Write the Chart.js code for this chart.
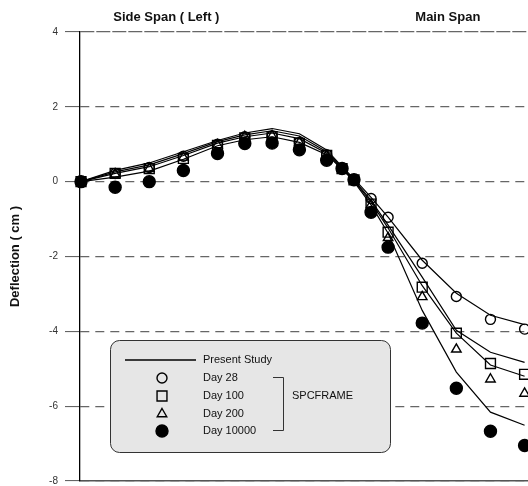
<!DOCTYPE html>
<html>
<head>
<meta charset="utf-8">
<title>Deflection</title>
<script src="https://cdn.jsdelivr.net/npm/chart.js"></script>
<style>
    html, body { margin: 0; padding: 0; background: #fff; }
    #chart { display: block; }
</style>
</head>
<body>
<canvas id="chart" width="528" height="486"></canvas>
<script>
// node positions along the deck (arbitrary units)
const nodeX = [0, 1, 2, 3, 4, 4.8, 5.6, 6.4, 7.2, 7.65, 8, 8.5, 9, 10, 11, 12, 13];

// Present Study (solid lines), one per age
const study28 = [0, 0.30, 0.50, 0.80, 1.10, 1.30, 1.42, 1.28, 0.85, 0.40, 0.08, -0.42, -0.95, -2.10, -2.98, -3.57, -3.82];
const study100 = [0, 0.26, 0.45, 0.75, 1.07, 1.25, 1.36, 1.22, 0.80, 0.38, 0.05, -0.50, -1.16, -2.55, -3.97, -4.56, -4.83];
const study200 = [0, 0.22, 0.40, 0.70, 1.03, 1.20, 1.30, 1.15, 0.76, 0.36, 0.03, -0.55, -1.24, -2.78, -4.05, -4.90, -5.20];
const study10000 = [0, 0.12, 0.28, 0.60, 0.96, 1.12, 1.20, 1.05, 0.72, 0.34, 0.00, -0.62, -1.38, -3.44, -5.09, -6.16, -6.51];

// SPCFRAME (markers)
const day28 = [0, 0.22, 0.38, 0.68, 1.00, 1.20, 1.22, 1.05, 0.72, 0.35, 0.05, -0.45, -0.95, -2.18, -3.07, -3.68, -3.94];
const day100 = [0, 0.22, 0.35, 0.62, 0.97, 1.17, 1.20, 1.02, 0.70, 0.35, 0.05, -0.60, -1.35, -2.82, -4.05, -4.86, -5.15];
const day200 = [0, 0.20, 0.35, 0.65, 0.98, 1.20, 1.22, 1.05, 0.70, 0.35, 0.05, -0.62, -1.50, -3.08, -4.48, -5.28, -5.66];
const day10000 = [0, -0.15, 0.00, 0.30, 0.75, 1.02, 1.03, 0.85, 0.57, 0.35, 0.05, -0.82, -1.75, -3.78, -5.52, -6.67, -7.05];

const yTicks = [4, 2, 0, -2, -4, -6, -8];
const spanTitles = ['Side Span ( Left )', 'Main Span'];
const legendLabels = ['Present Study', 'Day 28', 'Day 100', 'Day 200', 'Day 10000'];
const groupLabel = 'SPCFRAME';
const yTitle = 'Deflection ( cm )';

const FONT = '"Liberation Sans", Arial, Helvetica, sans-serif';

const toPoints = vals => vals.map((v, i) => ({ x: nodeX[i], y: v }));

const studyLine = vals => ({
    data: toPoints(vals),
    borderColor: '#000',
    borderWidth: 1.2,
    pointRadius: 0,
    tension: 0,
    fill: false,
    clip: false
});

const markers = (vals, style, radius, filled) => ({
    data: toPoints(vals),
    showLine: false,
    pointStyle: style,
    pointRadius: radius,
    pointBorderWidth: 1.4,
    pointBorderColor: '#000',
    pointBackgroundColor: filled ? '#000' : 'rgba(0,0,0,0)',
    clip: false
});

const markerStyles = [
    { style: 'circle', radius: 5, filled: false },
    { style: 'rect', radius: 7, filled: false },
    { style: 'triangle', radius: 5.5, filled: false },
    { style: 'circle', radius: 6, filled: true }
];

// span titles + boxed legend, drawn after the chart
const notesPlugin = {
    id: 'notes',
    afterDraw: function(chart) {
        const ctx = chart.ctx;
        const x = chart.scales.x;
        ctx.save();

        ctx.fillStyle = '#111';
        ctx.font = 'bold 13px ' + FONT;
        ctx.textAlign = 'center';
        ctx.textBaseline = 'middle';
        ctx.fillText(spanTitles[0], x.getPixelForValue(2.5), 17);
        ctx.fillText(spanTitles[1], x.getPixelForValue(10.75), 17);

        // legend box
        const bx = 110.5, by = 340.5, bw = 280, bh = 112, r = 9;
        ctx.beginPath();
        ctx.moveTo(bx + r, by);
        ctx.lineTo(bx + bw - r, by);
        ctx.arcTo(bx + bw, by, bx + bw, by + r, r);
        ctx.lineTo(bx + bw, by + bh - r);
        ctx.arcTo(bx + bw, by + bh, bx + bw - r, by + bh, r);
        ctx.lineTo(bx + r, by + bh);
        ctx.arcTo(bx, by + bh, bx, by + bh - r, r);
        ctx.lineTo(bx, by + r);
        ctx.arcTo(bx, by, bx + r, by, r);
        ctx.closePath();
        ctx.fillStyle = '#e6e6e6';
        ctx.fill();
        ctx.strokeStyle = '#333';
        ctx.lineWidth = 1;
        ctx.stroke();

        ctx.font = '11px ' + FONT;
        ctx.textAlign = 'left';
        ctx.fillStyle = '#111';

        // line sample
        ctx.beginPath();
        ctx.moveTo(125, 360);
        ctx.lineTo(196, 360);
        ctx.strokeStyle = '#000';
        ctx.lineWidth = 1.4;
        ctx.stroke();
        ctx.fillText(legendLabels[0], 203, 360);

        const rows = [378, 396, 414, 431];
        markerStyles.forEach((m, i) => {
            ctx.fillStyle = m.filled ? '#000' : 'rgba(0,0,0,0)';
            ctx.strokeStyle = '#000';
            ctx.lineWidth = 1.4;
            Chart.helpers.drawPoint(ctx, { pointStyle: m.style, radius: m.radius, rotation: 0, borderWidth: 1.4 }, 162, rows[i]);
            ctx.fillStyle = '#111';
            ctx.fillText(legendLabels[i + 1], 203, rows[i]);
        });

        // bracket for SPCFRAME
        ctx.beginPath();
        ctx.moveTo(273, 377.5);
        ctx.lineTo(283.5, 377.5);
        ctx.lineTo(283.5, 430.5);
        ctx.lineTo(273, 430.5);
        ctx.strokeStyle = '#333';
        ctx.lineWidth = 1;
        ctx.stroke();
        ctx.fillText(groupLabel, 292, 396);

        ctx.restore();
    }
};

new Chart(document.getElementById('chart'), {
    type: 'line',
    data: {
        datasets: [
            studyLine(study28),
            studyLine(study100),
            studyLine(study200),
            studyLine(study10000),
            markers(day28, markerStyles[0].style, markerStyles[0].radius, false),
            markers(day100, markerStyles[1].style, markerStyles[1].radius, false),
            markers(day200, markerStyles[2].style, markerStyles[2].radius, false),
            markers(day10000, markerStyles[3].style, markerStyles[3].radius, true)
        ]
    },
    options: {
        responsive: false,
        animation: false,
        layout: { autoPadding: false, padding: { left: 4, top: 32, right: 0, bottom: 5 } },
        plugins: {
            legend: { display: false },
            tooltip: { enabled: false }
        },
        scales: {
            x: {
                type: 'linear',
                min: -0.03,
                max: 13.1,
                ticks: { display: false },
                grid: { display: false },
                border: { display: true, color: '#555', width: 1.5 },
                afterFit: s => { s.height = 0; s.paddingLeft = 0; s.paddingRight = 0; }
            },
            y: {
                min: -8,
                max: 4,
                afterBuildTicks: s => { s.ticks = yTicks.map(v => ({ value: v })); },
                ticks: {
                    color: '#333',
                    font: { family: FONT, size: 10 },
                    padding: 7
                },
                grid: {
                    color: '#666',
                    lineWidth: 1.2,
                    tickLength: 15,
                    tickColor: '#555',
                    tickWidth: 1
                },
                border: {
                    color: '#000',
                    width: 1.3,
                    dash: ctx => (ctx.tick && ctx.tick.value === 4) ? [14, 2] : [9, 6]
                },
                title: {
                    display: true,
                    text: yTitle,
                    color: '#111',
                    font: { family: FONT, size: 13, weight: 'bold' },
                    padding: { top: 4, bottom: 0 }
                },
                afterFit: s => { s.width = 76; s.paddingTop = 0; s.paddingBottom = 0; }
            }
        }
    },
    plugins: [notesPlugin]
});
</script>
</body>
</html>
